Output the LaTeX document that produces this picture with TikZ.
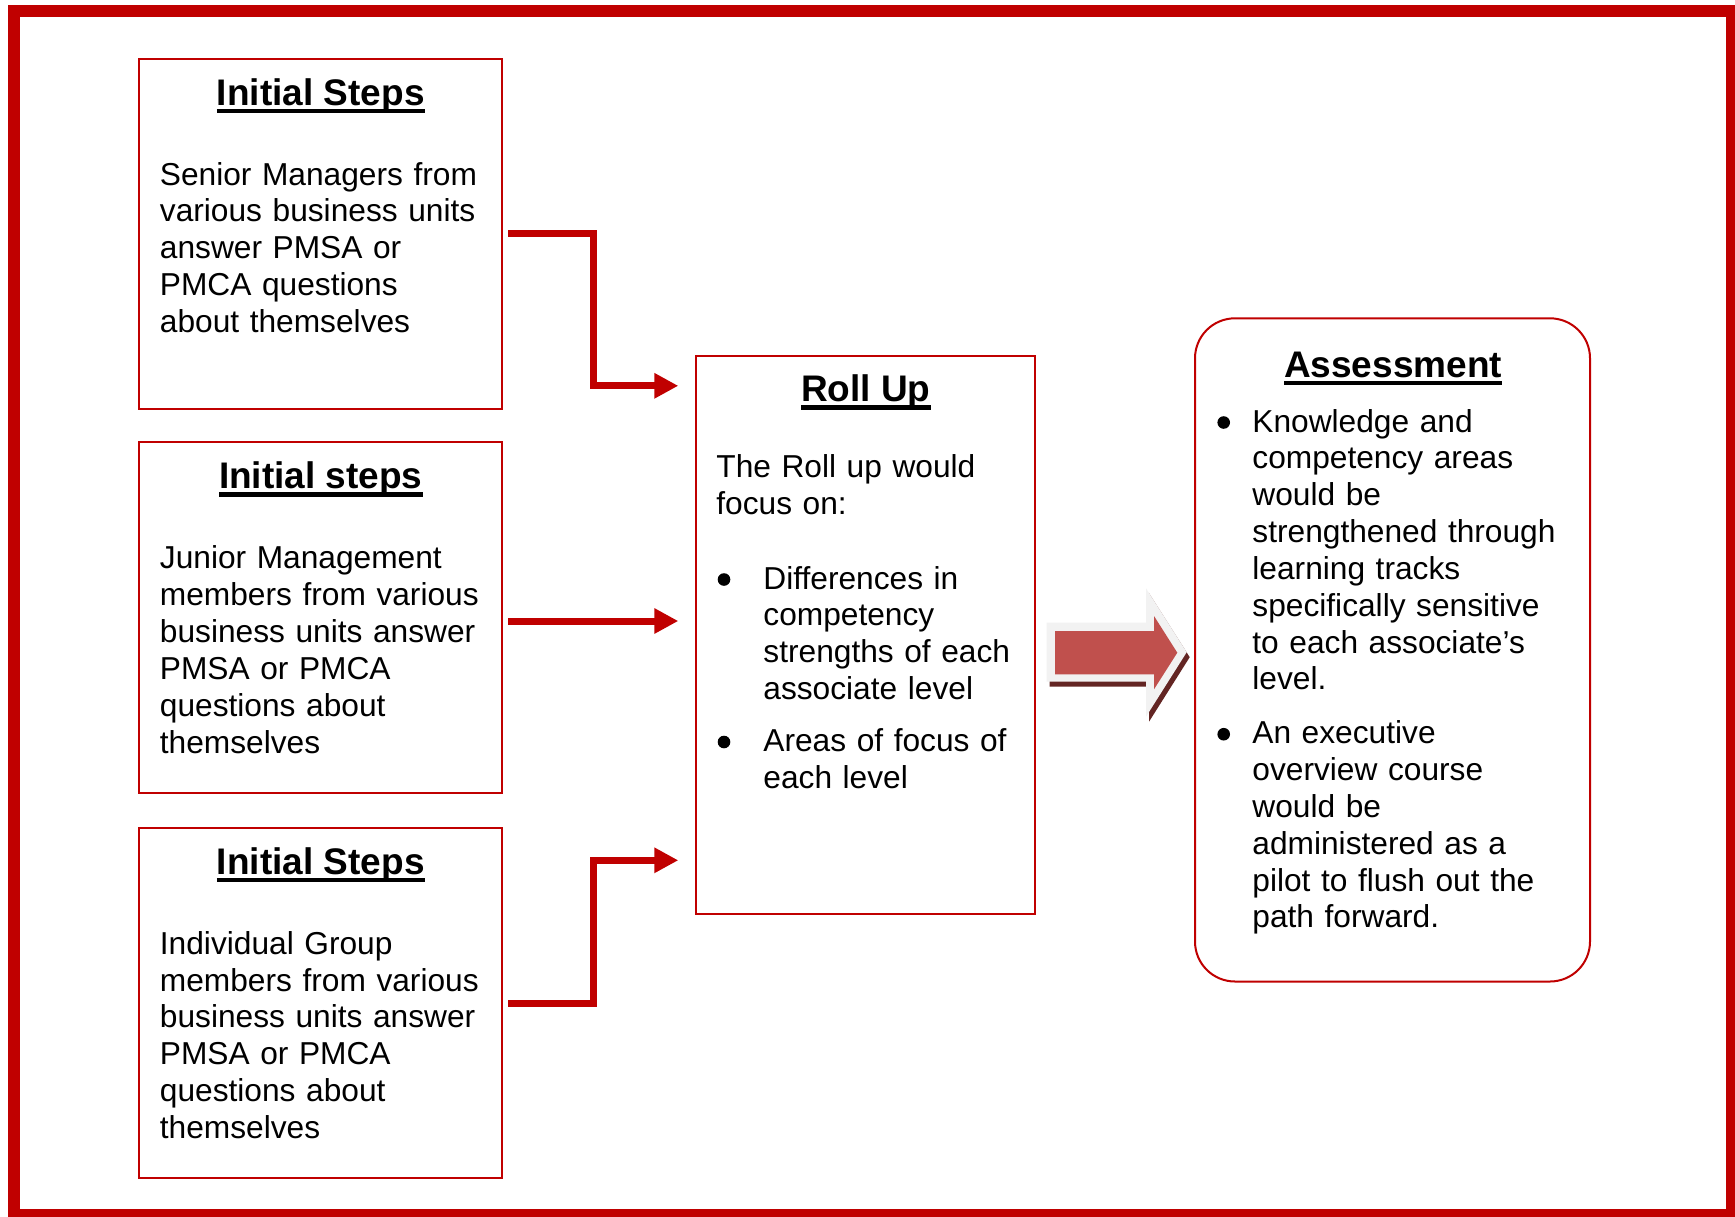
\documentclass[tikz,border=0pt]{standalone}
\usepackage{fontspec}
\setmainfont{Liberation Sans}
\usetikzlibrary{arrows.meta}
\definecolor{myred}{HTML}{C00000}
\definecolor{bigred}{HTML}{C0504D}
\definecolor{biggray}{HTML}{F2F2F2}
\definecolor{bigdark}{HTML}{632523}
\newcommand\bodyfont{\fontsize{15.85pt}{18.42pt}\selectfont}
\newcommand\titlefont{\fontsize{18.5pt}{22pt}\selectfont\bfseries}
\newcommand\ulbox[1]{\setbox0\hbox{#1}\rlap{\rule[-4pt]{\wd0}{2.2pt}}\box0}
\begin{document}
\begin{tikzpicture}[x=0.5pt,y=-0.5pt,
  box/.style={draw=myred, line width=1pt, inner sep=0pt, rectangle},
  body/.style={anchor=base west, inner sep=0pt, text width=200pt, align=left, font=\bodyfont},
  ttl/.style={anchor=base, inner sep=0pt, font=\titlefont},
  dot/.style={circle, fill=black, inner sep=0pt, minimum size=6.3pt},
  conn/.style={draw=myred, line width=3.5pt, -{Triangle[length=12pt,width=12pt]}}]
\path[use as bounding box] (0,0) rectangle (1735,1216);
\clip (0,0) rectangle (1735,1216);
\fill[white] (0,0) rectangle (1735,1216);
% outer frame
\draw[myred, line width=6pt] (14,11) rectangle (1732,1215);
% boxes
\node[box, minimum width=181.65pt, minimum height=175.25pt] (b1) at (320.65,233.75) {};
\node[box, minimum width=181.65pt, minimum height=175.5pt] (b2) at (320.65,617.8) {};
\node[box, minimum width=181.65pt, minimum height=175.3pt] (b3) at (320.65,1003) {};
\node[box, minimum width=169.45pt, minimum height=278.85pt] (ru) at (865.15,635.15) {};
\node[box, rounded corners=20pt, minimum width=197.5pt, minimum height=331.6pt] (as) at (1392.5,649.9) {};
% titles
\node[ttl] (t1) at (320.8,105) {\ulbox{Initial Steps}};
\node[ttl] (t2) at (320.8,488.8) {\ulbox{Initial steps}};
\node[ttl] (t3) at (320.8,874.2) {\ulbox{Initial Steps}};
\node[ttl] (t4) at (865.8,401.5) {\ulbox{Roll Up}};
\node[ttl] (t5) at (1393,377) {\ulbox{Assessment}};
% body texts
\node[body] (x1) at (159.5,185) {Senior Managers from\\various business units\\answer PMSA or\\PMCA questions\\about themselves};
\node[body] (x2) at (159.5,568.8) {Junior Management\\members from various\\business units answer\\PMSA or PMCA\\questions about\\themselves};
\node[body] (x3) at (159.5,954.2) {Individual Group\\members from various\\business units answer\\PMSA or PMCA\\questions about\\themselves};
\node[body] (x4) at (716,477.3) {The Roll up would\\focus on:};
\node[dot] (d1) at (724,579.5) {};
\node[body] (x5) at (763,589) {Differences in\\competency\\strengths of each\\associate level};
\node[dot] (d2) at (724,742) {};
\node[body] (x6) at (763,751.6) {Areas of focus of\\each level};
\node[dot] (d3) at (1223.7,422.5) {};
\node[body] (x7) at (1252,432) {Knowledge and\\competency areas\\would be\\strengthened through\\learning tracks\\specifically sensitive\\to each associate’s\\level.};
\node[dot] (d4) at (1223.7,734.2) {};
\node[body] (x8) at (1252,743.7) {An executive\\overview course\\would be\\administered as a\\pilot to flush out the\\path forward.};
% connectors
\coordinate (j1) at (593,385.8);
\coordinate (e1) at (678.3,385.8);
\coordinate (e2) at (678.3,621);
\coordinate (j3) at (593,860.3);
\coordinate (e3) at (678.3,860.3);
\draw[conn] ([xshift=2.5pt]b1.east) -| (j1) -- (e1);
\draw[conn] ([xshift=2.5pt,yshift=-1.6pt]b2.east) -- (e2);
\draw[conn] ([xshift=2.5pt]b3.east) -| (j3) -- (e3);
% big block arrow
\fill[bigdark, shift={(3,5)}] (1046.7,622.7) -- (1146,622.7) -- (1146,588.3) -- (1186.7,652.2) -- (1146,716.7) -- (1146,681.7) -- (1046.7,681.7) -- cycle;
\fill[biggray] (1046.7,622.7) -- (1146,622.7) -- (1146,588.3) -- (1186.7,652.2) -- (1146,716.7) -- (1146,681.7) -- (1046.7,681.7) -- cycle;
\fill[bigred] (1055,631) -- (1154,631) -- (1154,616) -- (1177.3,652.7) -- (1154,689.3) -- (1154,674.3) -- (1055,674.3) -- cycle;
\end{tikzpicture}
\end{document}
